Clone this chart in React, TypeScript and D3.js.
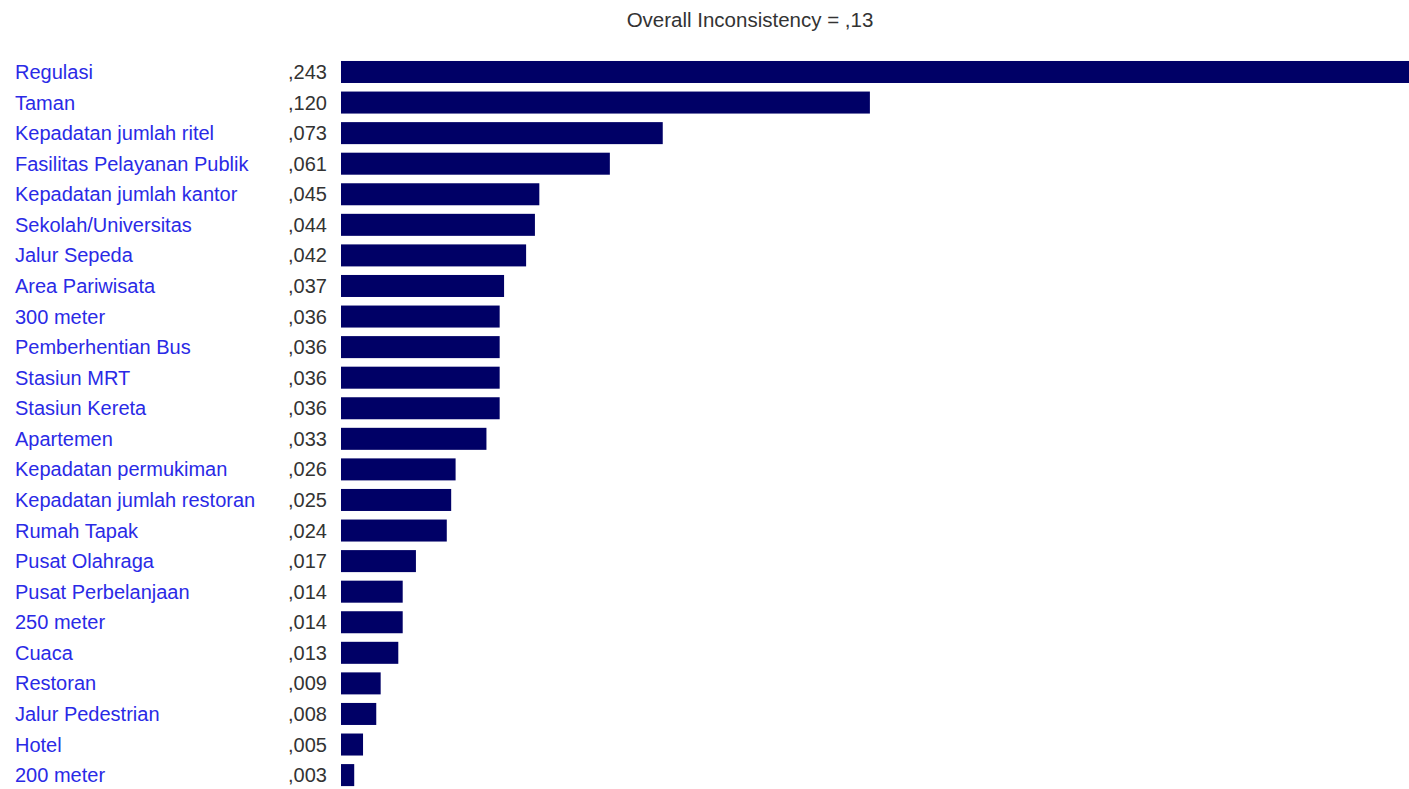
import React from "react";
import * as d3 from "d3";

const categories = [
  "Regulasi", "Taman", "Kepadatan jumlah ritel", "Fasilitas Pelayanan Publik",
  "Kepadatan jumlah kantor", "Sekolah/Universitas", "Jalur Sepeda", "Area Pariwisata",
  "300 meter", "Pemberhentian Bus", "Stasiun MRT", "Stasiun Kereta", "Apartemen",
  "Kepadatan permukiman", "Kepadatan jumlah restoran", "Rumah Tapak", "Pusat Olahraga",
  "Pusat Perbelanjaan", "250 meter", "Cuaca", "Restoran", "Jalur Pedestrian", "Hotel", "200 meter",
];
const values = [
  0.243, 0.120, 0.073, 0.061, 0.045, 0.044, 0.042, 0.037, 0.036, 0.036, 0.036, 0.036,
  0.033, 0.026, 0.025, 0.024, 0.017, 0.014, 0.014, 0.013, 0.009, 0.008, 0.005, 0.003,
];
const titleText = "Overall Inconsistency = ,13";

const fmt = (v: number) => "," + d3.format(".3f")(v).replace(/^0\./, "");

export default function App() {
  const W = 1409, H = 789;
  const x = d3.scaleLinear().domain([0, 0.243]).range([341, 1412]);
  const y = d3.scaleBand<number>().domain(d3.range(categories.length)).range([56.7, 56.7 + 30.57 * 24]).paddingInner(0.28).paddingOuter(0.14);
  const font = "'Liberation Sans', Arial, sans-serif";
  return (
    <svg width={W} height={H} style={{ position: "absolute", left: 0, top: 0, background: "#fff" }}>
      <text x={750} y={27} textAnchor="middle" fontFamily={font} fontSize={20.5} fill="#333">{titleText}</text>
      {categories.map((c, i) => {
        const yc = (y(i) as number) + y.bandwidth() / 2;
        return (
          <g key={c}>
            <text x={15} y={yc + 7} fontFamily={font} fontSize={20} fill="#2a2ae6">{c}</text>
            <text x={327} y={yc + 7} textAnchor="end" fontFamily={font} fontSize={20} fill="#333">{fmt(values[i])}</text>
            <rect x={x(0)} y={y(i)} width={x(values[i]) - x(0)} height={y.bandwidth()} fill="#000066" />
          </g>
        );
      })}
    </svg>
  );
}
